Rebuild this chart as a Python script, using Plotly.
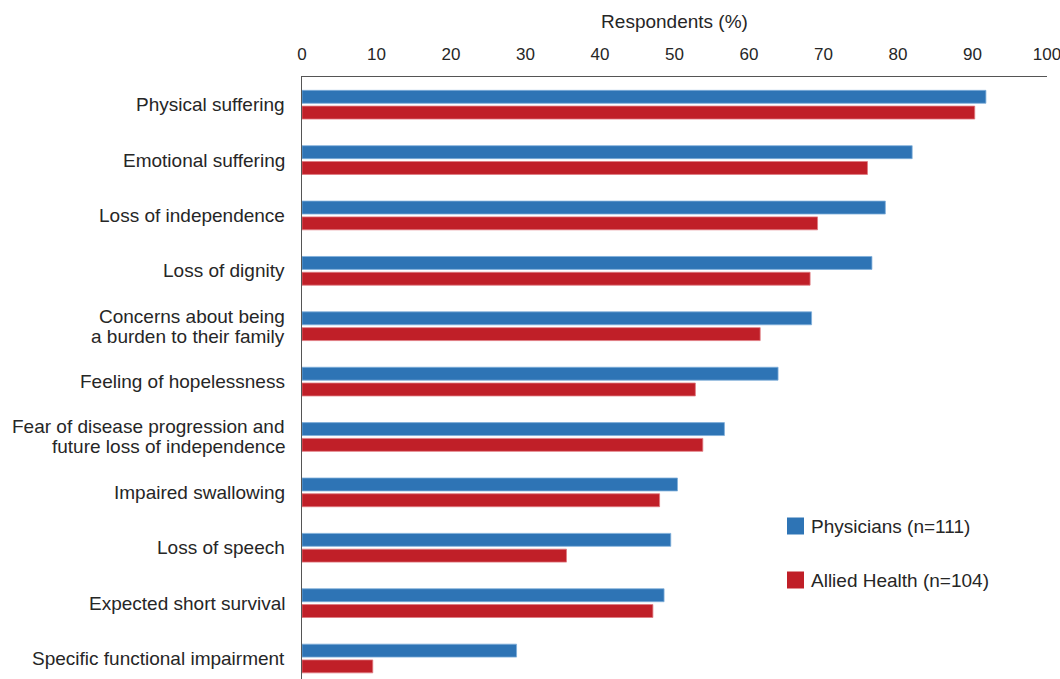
import plotly.graph_objects as go

categories = [
    "Physical suffering",
    "Emotional suffering",
    "Loss of independence",
    "Loss of dignity",
    "Concerns about being<br>a burden to their family",
    "Feeling of hopelessness",
    "Fear of disease progression and<br>future loss of independence",
    "Impaired swallowing",
    "Loss of speech",
    "Expected short survival",
    "Specific functional impairment",
]
physicians = [91.8, 81.9, 78.3, 76.5, 68.4, 63.9, 56.7, 50.4, 49.5, 48.6, 28.8]
allied_health = [90.3, 75.9, 69.2, 68.2, 61.5, 52.8, 53.8, 48.0, 35.5, 47.1, 9.5]

series_names = ["Physicians (n=111)", "Allied Health (n=104)"]
blue = "#2E74B5"
red = "#C01F28"
font_family = "Liberation Sans, Arial, sans-serif"
text_color = "#262626"
W, H = 1060, 679
L, R, T = 302, 1047, 77

fig = go.Figure()
fig.add_trace(go.Bar(
    y=categories, x=physicians, orientation="h", name=series_names[0],
    marker=dict(color=blue, line=dict(color="#7FAEDB", width=0.8)),
    showlegend=False,
))
fig.add_trace(go.Bar(
    y=categories, x=allied_health, orientation="h", name=series_names[1],
    marker=dict(color=red, line=dict(color="#E07A80", width=0.8)),
    showlegend=False,
))

# Category labels, with tight line spacing for the two-line ones
line_step = 20
for cat in categories:
    lines = cat.split("<br>")
    n = len(lines)
    for k, line in enumerate(lines):
        fig.add_annotation(
            xref="paper", yref="y", x=0, y=cat,
            text=line, showarrow=False, xanchor="right", yanchor="middle",
            xshift=-15, yshift=((n - 1) / 2 - k) * line_step,
            font=dict(size=19, color=text_color, family=font_family),
        )

# Legend drawn as squares + labels inside the plot area
legend_items = [(series_names[0], blue, 526), (series_names[1], red, 580)]
for name, color, ypx in legend_items:
    fig.add_shape(
        type="rect", xref="paper", yref="paper",
        x0=(787 - L) / (R - L), x1=(804 - L) / (R - L),
        y0=1 - (ypx + 8.5 - T) / (H - T), y1=1 - (ypx - 8.5 - T) / (H - T),
        fillcolor=color, line=dict(width=0),
    )
    fig.add_annotation(
        xref="paper", yref="paper",
        x=(809 - L) / (R - L), y=1 - (ypx - T) / (H - T),
        text=name, showarrow=False, xanchor="left", yanchor="middle",
        font=dict(size=19, color=text_color, family=font_family),
    )

fig.update_layout(
    width=W, height=H,
    margin=dict(l=L, r=W - R, t=T, b=0),
    paper_bgcolor="white", plot_bgcolor="white",
    barmode="group", bargap=0.43, bargroupgap=0.18,
    font=dict(family=font_family, color=text_color),
    xaxis=dict(
        side="top", range=[0, 100], dtick=10, tick0=0,
        showgrid=False, zeroline=False,
        showline=True, linecolor="#555555", linewidth=1.2,
        ticks="", ticklabelstandoff=9, ticklabeloverflow="allow",
        tickfont=dict(size=17, color=text_color),
        title=dict(text="Respondents (%)", font=dict(size=19, color=text_color), standoff=11),
    ),
    yaxis=dict(
        range=[10.37, -0.5], showgrid=False, zeroline=False,
        showline=True, linecolor="#555555", linewidth=1.2,
        ticks="", showticklabels=False,
    ),
)

fig.write_html("out.html")
